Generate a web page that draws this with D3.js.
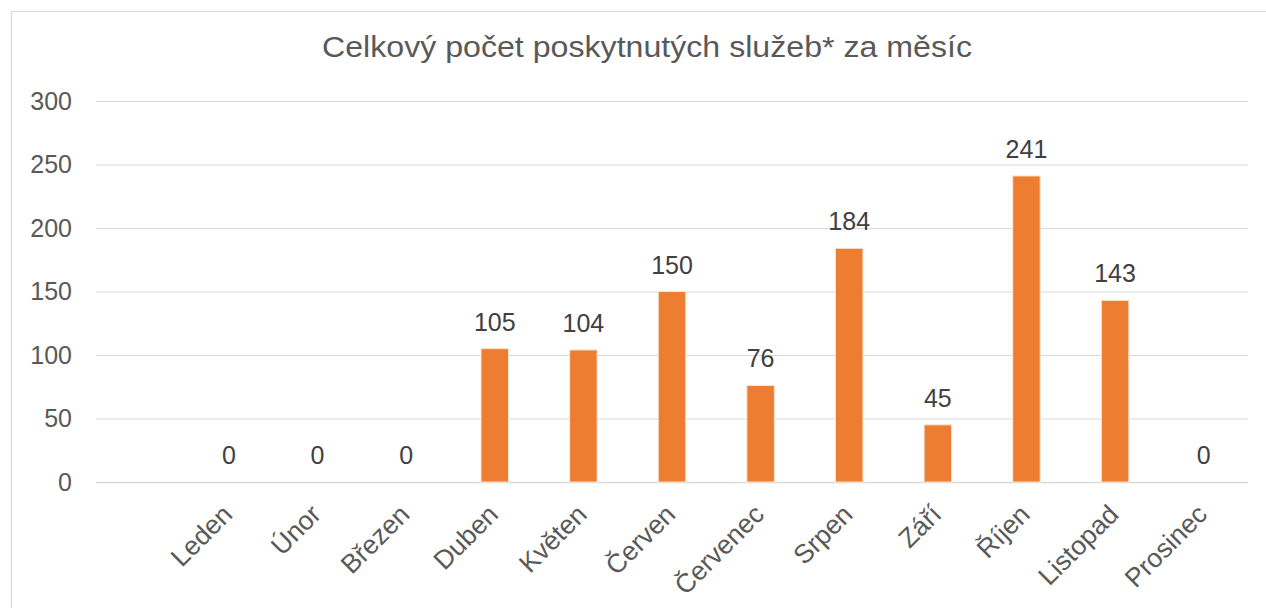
<!DOCTYPE html>
<html>
<head>
<meta charset="utf-8">
<script src="https://cdn.jsdelivr.net/npm/d3@7"></script>
<style>
  body { margin: 0; background: #fff; }
  svg { display: block; font-family: "Liberation Sans", Arial, sans-serif; }
</style>
</head>
<body>
<div id="vis"></div>
<script>
const title = 'Celkový počet poskytnutých služeb* za měsíc';
const months = ['Leden', 'Únor', 'Březen', 'Duben', 'Květen', 'Červen',
                'Červenec', 'Srpen', 'Září', 'Říjen', 'Listopad', 'Prosinec'];
const services = [0, 0, 0, 105, 104, 150, 76, 184, 45, 241, 143, 0];
const yTicks = [0, 50, 100, 150, 200, 250, 300];

const width = 1266;
const height = 608;

const margin = {top: 101, bottom: 126, left: 96, right: 18};
const textColor = '#595959';
const gridColor = '#d9d9d9';
const barColor = '#ed7d31';

const svg = d3.select('#vis').append('svg')
    .attr('width', width)
    .attr('height', height);

// chart frame
svg.append('rect')
    .attr('x', 11.5)
    .attr('y', 11.5)
    .attr('width', width + 50)
    .attr('height', height + 50)
    .attr('fill', 'none')
    .attr('stroke', gridColor)
    .attr('stroke-width', 1.2);

const y = d3.scaleLinear()
    .domain([0, 300])
    .range([height - margin.bottom, margin.top]);

// first slot of the category axis is left empty
const step = (width - margin.right - margin.left) / (months.length + 1);
const x = d3.scaleBand()
    .domain(months)
    .range([margin.left + step, width - margin.right]);

svg.append('text')
    .attr('x', 647)
    .attr('y', 57)
    .attr('text-anchor', 'middle')
    .attr('fill', textColor)
    .attr('font-size', 29.5)
    .attr('textLength', 650)
    .attr('lengthAdjust', 'spacingAndGlyphs')
    .text(title);

// gridlines + y labels
svg.append('g')
    .attr('transform', `translate(${margin.left}, 0)`)
    .call(d3.axisLeft(y)
      .tickValues(yTicks)
      .tickSize(-(width - margin.right - margin.left))
      .tickPadding(24))
    .call(g => g.select('.domain').remove())
    .call(g => g.selectAll('.tick line')
        .attr('stroke', gridColor)
        .attr('stroke-width', d => d === 0 ? 1.6 : 1))
    .call(g => g.selectAll('.tick text')
        .attr('fill', textColor)
        .attr('font-size', 25)
        .attr('font-family', '"Liberation Sans", Arial, sans-serif'));

// bars
const barWidth = x.bandwidth() * 0.31;
svg.append('g')
  .selectAll('rect')
  .data(d3.zip(months, services))
  .join('rect')
    .attr('x', d => x(d[0]) + (x.bandwidth() - barWidth) / 2)
    .attr('y', d => y(d[1]))
    .attr('width', barWidth)
    .attr('height', d => y(0) - y(d[1]))
    .attr('fill', barColor)
    .attr('stroke', d => d[1] > 0 ? '#fbe3d3' : 'none')
    .attr('stroke-width', 1);

// value labels
svg.append('g')
  .selectAll('text')
  .data(d3.zip(months, services))
  .join('text')
    .attr('x', d => x(d[0]) + x.bandwidth() / 2)
    .attr('y', d => y(d[1]) - 18)
    .attr('text-anchor', 'middle')
    .attr('fill', '#404040')
    .attr('font-size', 25)
    .text(d => d[1]);

// month labels
svg.append('g')
  .selectAll('text')
  .data(months)
  .join('text')
    .attr('transform', d => `translate(${x(d) + x.bandwidth() / 2 + 5}, ${y(0) + 34}) rotate(-45)`)
    .attr('text-anchor', 'end')
    .attr('fill', textColor)
    .attr('font-size', 26.5)
    .text(d => d);
</script>
</body>
</html>
